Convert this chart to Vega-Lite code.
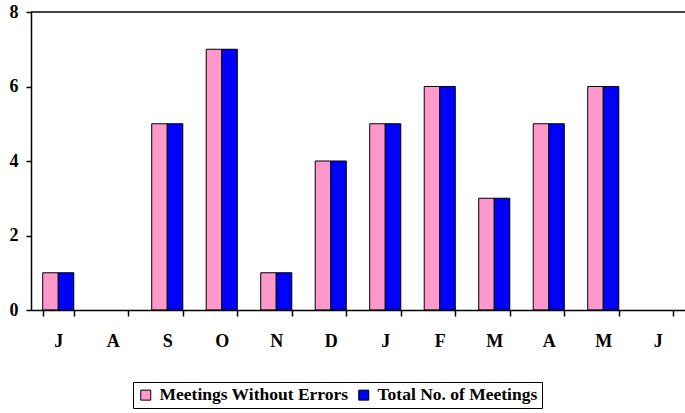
{
  "$schema": "https://vega.github.io/schema/vega-lite/v6.json",
  "width": 654,
  "height": 298,
  "autosize": "none",
  "padding": {"left": 31, "top": 12, "right": 0, "bottom": 103},
  "background": "white",
  "config": {
    "view": {"stroke": null},
    "font": "'Liberation Serif', 'Times New Roman', serif",
    "axis": {"labelFont": "'Liberation Serif', 'Times New Roman', serif", "labelFontWeight": "bold", "labelFontSize": 18, "labelColor": "black", "domainColor": "black", "tickColor": "black", "domainWidth": 1.5, "tickWidth": 1.5, "grid": false, "title": null},
    "legend": {"labelFont": "'Liberation Serif', 'Times New Roman', serif"}
  },
  "data": {
    "values": [
      {"month": "Jul", "series": "Meetings Without Errors", "value": 1},
      {"month": "Jul", "series": "Total No. of Meetings", "value": 1},
      {"month": "Aug", "series": "Meetings Without Errors", "value": 0},
      {"month": "Aug", "series": "Total No. of Meetings", "value": 0},
      {"month": "Sep", "series": "Meetings Without Errors", "value": 5},
      {"month": "Sep", "series": "Total No. of Meetings", "value": 5},
      {"month": "Oct", "series": "Meetings Without Errors", "value": 7},
      {"month": "Oct", "series": "Total No. of Meetings", "value": 7},
      {"month": "Nov", "series": "Meetings Without Errors", "value": 1},
      {"month": "Nov", "series": "Total No. of Meetings", "value": 1},
      {"month": "Dec", "series": "Meetings Without Errors", "value": 4},
      {"month": "Dec", "series": "Total No. of Meetings", "value": 4},
      {"month": "Jan", "series": "Meetings Without Errors", "value": 5},
      {"month": "Jan", "series": "Total No. of Meetings", "value": 5},
      {"month": "Feb", "series": "Meetings Without Errors", "value": 6},
      {"month": "Feb", "series": "Total No. of Meetings", "value": 6},
      {"month": "Mar", "series": "Meetings Without Errors", "value": 3},
      {"month": "Mar", "series": "Total No. of Meetings", "value": 3},
      {"month": "Apr", "series": "Meetings Without Errors", "value": 5},
      {"month": "Apr", "series": "Total No. of Meetings", "value": 5},
      {"month": "May", "series": "Meetings Without Errors", "value": 6},
      {"month": "May", "series": "Total No. of Meetings", "value": 6},
      {"month": "Jun", "series": "Meetings Without Errors", "value": 0},
      {"month": "Jun", "series": "Total No. of Meetings", "value": 0}
    ]
  },
  "layer": [
    {
      "mark": {"type": "rule", "color": "#444444", "strokeWidth": 1.5},
      "encoding": {"y": {"datum": 8, "type": "quantitative"}}
    },
    {
      "transform": [{"filter": "datum.value > 0"}],
      "mark": {"type": "bar", "stroke": "black", "strokeWidth": 1},
      "encoding": {
        "x": {
          "field": "month", "type": "nominal",
          "scale": {"domain": ["Jul","Aug","Sep","Oct","Nov","Dec","Jan","Feb","Mar","Apr","May","Jun"], "paddingInner": 0.43, "paddingOuter": 0.215},
          "axis": {"labelExpr": "substring(datum.label, 0, 1)", "labelAngle": 0, "tickBand": "extent", "tickSize": 6, "labelPadding": 16, "zindex": 1}
        },
        "xOffset": {
          "field": "series", "type": "nominal",
          "scale": {"domain": ["Meetings Without Errors", "Total No. of Meetings"], "paddingInner": 0, "paddingOuter": 0}
        },
        "y": {
          "field": "value", "type": "quantitative",
          "scale": {"domain": [0, 8], "nice": false},
          "axis": {"values": [0, 2, 4, 6, 8], "tickSize": 5, "labelPadding": 8, "zindex": 1}
        },
        "color": {
          "field": "series", "type": "nominal",
          "scale": {"domain": ["Meetings Without Errors", "Total No. of Meetings"], "range": ["#FF99CC", "#0000FF"]},
          "legend": {
            "title": null, "orient": "none", "legendX": 102, "legendY": 370, "direction": "horizontal",
            "strokeColor": "black", "padding": 4, "symbolType": "square", "symbolSize": 100,
            "symbolStrokeColor": "black", "symbolStrokeWidth": 1, "symbolOpacity": 1,
            "labelFont": "'Liberation Serif', 'Times New Roman', serif", "labelFontWeight": "bold", "labelFontSize": 17.5, "labelColor": "black",
            "columnPadding": 6, "labelOffset": 5, "labelLimit": 400
          }
        }
      }
    }
  ]
}
